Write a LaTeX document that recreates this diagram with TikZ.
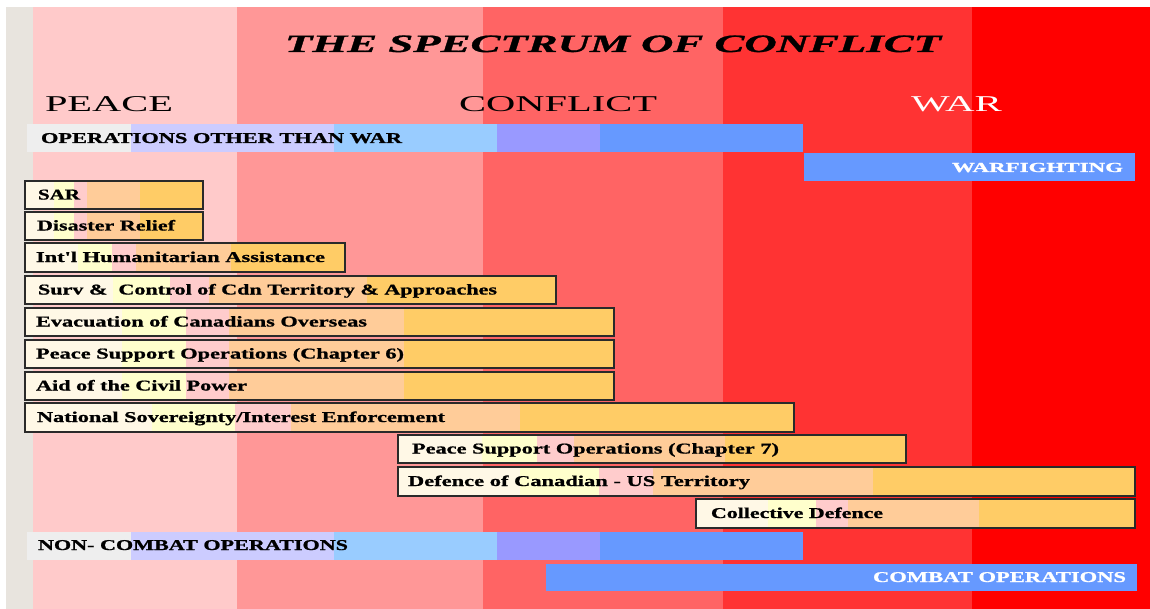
\documentclass[tikz,border=0pt]{standalone}
\usepackage{fontspec}
\setmainfont{Liberation Serif}
\newfontfamily\heavyfont[FakeBold=0.9]{Liberation Serif Bold}
\newfontfamily\heavyital[FakeBold=0.9]{Liberation Serif Bold Italic}
\usepackage{graphicx}
\definecolor{bgA}{HTML}{FFCACA}
\definecolor{bgB}{HTML}{FF9797}
\definecolor{bgC}{HTML}{FF6464}
\definecolor{bgD}{HTML}{FF3333}
\definecolor{bgE}{HTML}{FF0000}
\definecolor{leftgray}{HTML}{E8E4DE}
\definecolor{segA}{HTML}{EEEEEE}
\definecolor{segB}{HTML}{CCCCFF}
\definecolor{segC}{HTML}{99CCFF}
\definecolor{segD}{HTML}{9999FF}
\definecolor{segE}{HTML}{6699FF}
\definecolor{cream}{HTML}{FFF8E6}
\definecolor{lyel}{HTML}{FFFFCC}
\definecolor{lpink}{HTML}{FFCCCC}
\definecolor{peach}{HTML}{FFCC99}
\definecolor{orng}{HTML}{FFCC66}
\definecolor{edge}{HTML}{2A2A2A}
\tikzset{
  lbl/.style={inner sep=0pt, outer sep=0pt, anchor=base west},
  barlabel/.style={lbl, font=\fontsize{7.5}{7.5}\heavyfont, text=black},
  bandlabel/.style={lbl, font=\fontsize{7.5}{7.5}\heavyfont},
  zonelabel/.style={lbl, font=\fontsize{11.3}{11.3}\selectfont},
  barborder/.style={draw=edge, line width=1pt},
}
% #1 name, #2 x1, #3 y1, #4 x2, #5 y2, #6 label, #7 label start x, #8 label end x
\newcommand\actbar[8]{%
  \pgfmathsetmacro\barL{#4-#2}%
  \pgfmathsetmacro\pa{#2+0.165*\barL}%
  \pgfmathsetmacro\pb{#2+0.273*\barL}%
  \pgfmathsetmacro\pc{#2+0.346*\barL}%
  \pgfmathsetmacro\pd{#2+0.644*\barL}%
  \pgfmathsetmacro\lw{(#8-#7)/2}%
  \fill[cream] (#2,#3) rectangle (\pa,#5);
  \fill[lyel] (\pa,#3) rectangle (\pb,#5);
  \fill[lpink] (\pb,#3) rectangle (\pc,#5);
  \fill[peach] (\pc,#3) rectangle (\pd,#5);
  \fill[orng] (\pd,#3) rectangle (#4,#5);
  \draw[barborder] (#2,#3) rectangle (#4,#5);
  \node[barlabel] (#1) at (#7,{(#3+#5)/2+4.5}) {\resizebox{\lw pt}{\height}{#6}};
}
% five-segment blue band
\newcommand\opsband[3]{% #1 x1, #2 y1, #3 y2
  \fill[segA] (#1,#2) rectangle (131,#3);
  \fill[segB] (131,#2) rectangle (334,#3);
  \fill[segC] (334,#2) rectangle (497,#3);
  \fill[segD] (497,#2) rectangle (600,#3);
  \fill[segE] (600,#2) rectangle (803,#3);
}
\begin{document}
\begin{tikzpicture}[x=0.5pt,y=-0.5pt]
\useasboundingbox (0,0) rectangle (1150,609);
\fill[white] (0,0) rectangle (1150,609);
% background bands
\fill[leftgray] (6,7) rectangle (33,609);
\fill[bgA] (33,7) rectangle (237,609);
\fill[bgB] (237,7) rectangle (483,609);
\fill[bgC] (483,7) rectangle (723,609);
\fill[bgD] (723,7) rectangle (972,609);
\fill[bgE] (972,7) rectangle (1150,609);
% title and zones
\node[lbl, font=\fontsize{12.5}{12.5}\heavyital] (title) at (285,52)
  {\resizebox{328pt}{\height}{THE SPECTRUM OF CONFLICT}};
\node[zonelabel] (peace) at (45,112) {\resizebox{64pt}{\height}{PEACE}};
\node[zonelabel] (conflict) at (459,112) {\resizebox{99pt}{\height}{CONFLICT}};
\node[zonelabel, text=white] (war) at (911,112) {\resizebox{45.5pt}{\height}{WAR}};
% operations other than war
\opsband{27}{124}{152}
\node[bandlabel] (ootw) at (41,143) {\resizebox{180.5pt}{\height}{OPERATIONS OTHER THAN WAR}};
\fill[segE] (804,153) rectangle (1135,181);
\node[bandlabel, text=white, font=\fontsize{6.9}{6.9}\heavyfont] (warfighting) at (952,172)
  {\resizebox{85.5pt}{\height}{WARFIGHTING}};
% activity bars
\actbar{sar}{25}{181}{203}{209}{SAR}{38}{80}
\actbar{disaster}{25}{212}{203}{240}{Disaster Relief}{37}{175}
\actbar{humanitarian}{25}{243}{345}{272}{Int'l Humanitarian Assistance}{36}{325}
\actbar{surv}{25}{276}{556}{304}{Surv \&\ \ Control of Cdn Territory \& Approaches}{38}{497}
\actbar{evac}{25}{308}{614}{336}{Evacuation of Canadians Overseas}{36}{367}
\actbar{psosix}{25}{340}{614}{368}{Peace Support Operations (Chapter 6)}{36}{404}
\actbar{aid}{25}{372}{614}{400}{Aid of the Civil Power}{36}{247}
\actbar{natsov}{25}{403}{794}{432}{National Sovereignty/Interest Enforcement}{37}{445}
\actbar{psoseven}{398}{435}{906}{463}{Peace Support Operations (Chapter 7)}{412}{779}
\actbar{defence}{398}{467}{1135}{496}{Defence of Canadian - US Territory}{408}{750}
\actbar{collective}{696}{499}{1135}{528}{Collective Defence}{711}{883}
% combat / non-combat
\opsband{27}{532}{560}
\node[bandlabel] (noncombat) at (38,550) {\resizebox{155pt}{\height}{NON- COMBAT OPERATIONS}};
\fill[segE] (546,564) rectangle (1137,591);
\node[bandlabel, text=white] (combat) at (873,582) {\resizebox{126.5pt}{\height}{COMBAT OPERATIONS}};
\end{tikzpicture}
\end{document}
